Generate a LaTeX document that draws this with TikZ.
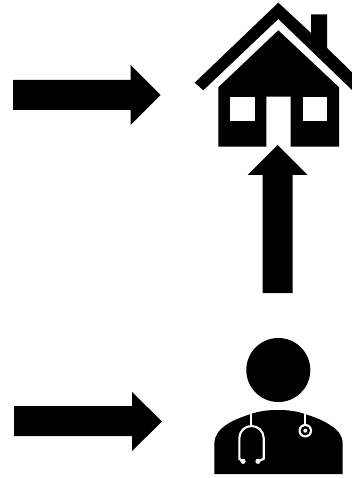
\documentclass[tikz,border=0pt]{standalone}
\tikzset{ink/.style={fill=black,draw=none},gap/.style={fill=white,draw=none},tube/.style={draw=white,line width=2.1pt,fill=none,line cap=round,line join=round}}
\begin{document}
\begin{tikzpicture}[x=1pt,y=-1pt]
\useasboundingbox (0,0) rectangle (352,478);
\clip (0,0) rectangle (352,478);
% arrows
\fill[ink] (13,80) -- (130.5,80) -- (130.5,65) -- (160.5,95) -- (130.5,125) -- (130.5,110) -- (13,110) -- cycle;
\fill[ink] (14,406) -- (132,406) -- (132,392) -- (162,421.5) -- (132,451) -- (132,436) -- (14,436) -- cycle;
\fill[ink] (262.5,293) -- (262.5,175) -- (247.5,175) -- (277.5,145) -- (307.5,175) -- (292.5,175) -- (292.5,293) -- cycle;
% house roof
\fill[ink] (278.3,2.7) -- (311,33) -- (311,14.5) -- (327,14.5) -- (327,48) -- (360,80) -- (360,97.7) -- (278.3,19) -- (203.3,90.3) -- (194.7,82.7) -- cycle;
% house body
\fill[ink] (278.3,30.3) -- (339,87.3) -- (339,146.7) -- (290.7,146.7) -- (290.7,96.7) -- (266.3,96.7) -- (266.3,146.7) -- (218.3,146.7) -- (218.3,87.3) -- cycle;
\fill[gap] (230,96.7) rectangle (254.7,120.7);
\fill[gap] (302.7,96.7) rectangle (327,120.7);
% doctor
\fill[ink] (278.3,370) circle (32);
\fill[ink] (214.3,474) -- (214.3,443) .. controls (215,435) and (219,430) .. (225,425.7) .. controls (233,420) and (242,417) .. (250.7,414) .. controls (260,411) and (268,410) .. (278.3,410) .. controls (288,410) and (296,411) .. (305,414) .. controls (314,417) and (323,420) .. (331,425.7) .. controls (338,430) and (342,435) .. (342.7,443) -- (342.7,474) -- cycle;
% stethoscope
\draw[tube] (251,414) -- (251,426);
\draw[tube] (243,461) -- (239.3,459) -- (239.3,438) .. controls (239.5,431) and (245,426) .. (251.5,426) .. controls (258,426) and (263.5,431) .. (263.7,438) -- (263.7,459) -- (258,461);
\fill[white] (243,461.3) circle (2.6);
\fill[white] (258,461.3) circle (2.6);
\draw[tube] (305.3,413) -- (305.3,425);
\fill[white] (305.3,430.7) circle (6.8);
\fill[ink] (305.3,430.7) circle (4.7);
\fill[white] (305.3,430.7) circle (2);
\end{tikzpicture}
\end{document}
